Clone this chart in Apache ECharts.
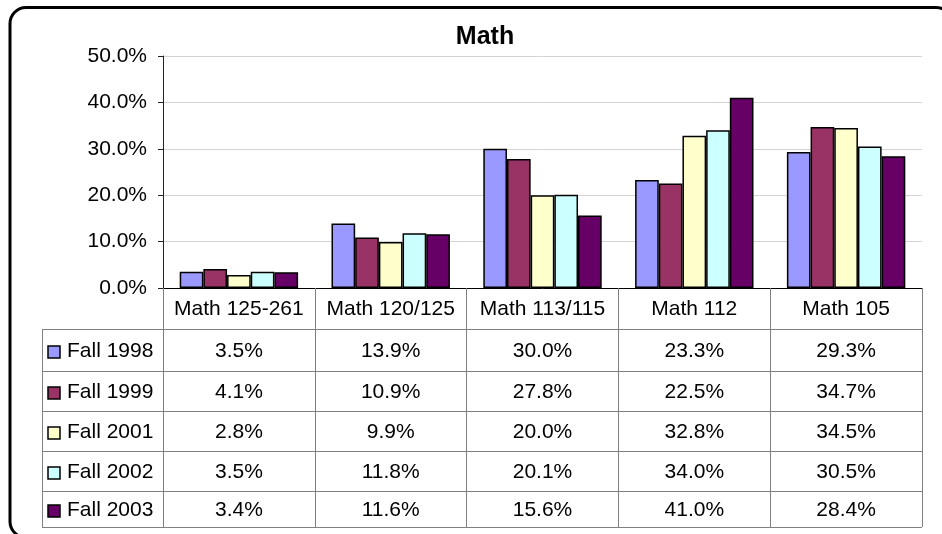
<!DOCTYPE html>
<html>
<head>
<meta charset="utf-8">
<script src="https://cdn.jsdelivr.net/npm/echarts@6/dist/echarts.min.js"></script>
<style>
html,body{margin:0;padding:0;background:#fff;}
#chart{width:942px;height:534px;}
</style>
</head>
<body>
<div id="chart"></div>
<script>
var categories = ['Math 125-261', 'Math 120/125', 'Math 113/115', 'Math 112', 'Math 105'];
var seriesNames = ['Fall 1998', 'Fall 1999', 'Fall 2001', 'Fall 2002', 'Fall 2003'];
var fall1998 = [3.5, 13.9, 30.0, 23.3, 29.3];
var fall1999 = [4.1, 10.9, 27.8, 22.5, 34.7];
var fall2001 = [2.8, 9.9, 20.0, 32.8, 34.5];
var fall2002 = [3.5, 11.8, 20.1, 34.0, 30.5];
var fall2003 = [3.4, 11.6, 15.6, 41.0, 28.4];
var colors = ['#9999FF', '#993366', '#FFFFCC', '#CCFFFF', '#660066'];
var yTicks = [0, 10, 20, 30, 40, 50];
var titleText = 'Math';

var allValues = [fall1998, fall1999, fall2001, fall2002, fall2003];
var FONT = '"Liberation Sans", Arial, sans-serif';

var chart = echarts.init(document.getElementById('chart'), null, {renderer: 'canvas'});

var series = seriesNames.map(function (name, i) {
  return {
    name: name,
    type: 'bar',
    data: allValues[i],
    barGap: '0%',
    barCategoryGap: '22%',
    itemStyle: {color: colors[i], borderColor: '#000', borderWidth: 1.5},
    emphasis: {disabled: true}
  };
});

chart.setOption({
  animation: false,
  textStyle: {fontFamily: FONT},
  title: {
    text: titleText,
    left: 480,
    top: 20,
    textAlign: 'center',
    textStyle: {fontFamily: FONT, fontSize: 25, fontWeight: 'bold', color: '#000'}
  },
  grid: {left: 163, right: 20, top: 56, bottom: 246, containLabel: false},
  xAxis: {
    type: 'category',
    data: categories,
    axisLine: {lineStyle: {color: '#000', width: 1}},
    axisTick: {show: true, interval: 0, length: 239, lineStyle: {color: '#808080', width: 1}},
    axisLabel: {interval: 0, margin: 11, fontSize: 21, color: '#000', fontFamily: FONT},
    splitLine: {show: false}
  },
  yAxis: {
    type: 'value',
    min: yTicks[0],
    max: yTicks[yTicks.length - 1],
    interval: yTicks[1] - yTicks[0],
    axisLine: {show: true, lineStyle: {color: '#222', width: 1}},
    axisTick: {show: true, length: 5, lineStyle: {color: '#222'}},
    axisLabel: {margin: 16, fontSize: 21, color: '#000', fontFamily: FONT,
      formatter: function (v) { return v.toFixed(1) + '%'; }},
    splitLine: {lineStyle: {color: '#d4d4d4', width: 1}}
  },
  series: series
});

// Build data table beneath axis
function buildTable() {
  var x0 = chart.convertToPixel({xAxisIndex: 0}, 0);
  var x1 = chart.convertToPixel({xAxisIndex: 0}, 1);
  var step = x1 - x0;
  var plotLeft = x0 - step / 2;
  var plotRight = plotLeft + step * categories.length;
  var tableLeft = 42;
  var rowLines = [329, 371, 411, 451, 491, 527];
  var g = [];
  // outer rounded border
  g.push({type: 'rect', shape: {x: 10, y: 7.5, width: 942, height: 530, r: 16},
    style: {fill: null, stroke: '#000', lineWidth: 3}, z: 100, silent: true});
  // horizontal lines
  for (var r = 0; r < rowLines.length; r++) {
    var y = rowLines[r] + 0.5;
    g.push({type: 'line', shape: {x1: tableLeft, y1: y, x2: plotRight, y2: y},
      style: {stroke: '#808080', lineWidth: 1}, silent: true});
  }
  // left border of table
  g.push({type: 'line', shape: {x1: tableLeft + 0.5, y1: rowLines[0] + 0.5, x2: tableLeft + 0.5, y2: rowLines[rowLines.length - 1] + 0.5},
    style: {stroke: '#808080', lineWidth: 1}, silent: true});
  for (var s = 0; s < seriesNames.length; s++) {
    var cy = (rowLines[s] + rowLines[s + 1]) / 2 + 1.5;
    g.push({type: 'rect', shape: {x: 48, y: Math.round(cy - 6), width: 12, height: 12},
      style: {fill: colors[s], stroke: '#000', lineWidth: 1.5}, silent: true});
    g.push({type: 'text', x: 67, y: cy, style: {text: seriesNames[s], fontSize: 21, fontFamily: FONT,
      fill: '#000', verticalAlign: 'middle', textAlign: 'left'}, silent: true});
    for (var c = 0; c < categories.length; c++) {
      var cx = chart.convertToPixel({xAxisIndex: 0}, c);
      g.push({type: 'text', x: cx, y: cy, style: {text: allValues[s][c].toFixed(1) + '%', fontSize: 21,
        fontFamily: FONT, fill: '#000', verticalAlign: 'middle', textAlign: 'center'}, silent: true});
    }
  }
  chart.setOption({graphic: g});
}
buildTable();
</script>
</body>
</html>
